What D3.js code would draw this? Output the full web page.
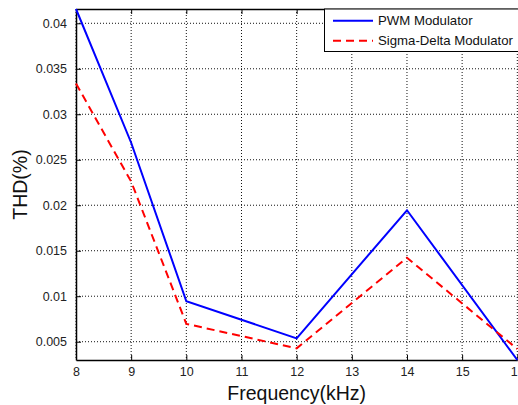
<!DOCTYPE html>
<html>
<head>
<meta charset="utf-8">
<script src="https://cdn.jsdelivr.net/npm/d3@7"></script>
<style>
  body { margin: 0; background: #fff; }
  svg { display: block; font-family: "Liberation Sans", Arial, sans-serif; }
</style>
</head>
<body>
<svg id="chart" width="518" height="405"></svg>
<script>
const freqs = [8, 9, 10, 12, 14, 16];
const pwmThd = [0.04157, 0.02687, 0.00945, 0.00537, 0.01945, 0.00299];
const sigmaDeltaThd = [0.03338, 0.0226, 0.00696, 0.00427, 0.01423, 0.0042];
const xTicks = [8, 9, 10, 11, 12, 13, 14, 15, 16];
const yTicks = [0.005, 0.01, 0.015, 0.02, 0.025, 0.03, 0.035, 0.04];
const yTickLabels = ["0.005", "0.01", "0.015", "0.02", "0.025", "0.03", "0.035", "0.04"];

const svg = d3.select("#chart");
const plotLeft = 76, plotRight = 517.3, plotTop = 9, plotBottom = 360;

const x = d3.scaleLinear().domain([8, 16]).range([plotLeft, plotRight]);
// axis is tight to the data, like matlab "axis tight"
const yExtent = d3.extent(pwmThd.concat(sigmaDeltaThd));
const y = d3.scaleLinear().domain(yExtent).range([plotBottom, plotTop]);

const series = [
    { name: "PWM Modulator", values: pwmThd, color: "#0000ff", dash: null },
    { name: "Sigma-Delta Modulator", values: sigmaDeltaThd, color: "#ff0000", dash: "8,5" }
];

//grid lines
const grid = svg.append("g").attr("stroke", "#111").attr("stroke-width", 1).attr("stroke-dasharray", "1,2");
xTicks.forEach(t => {
    grid.append("line").attr("x1", x(t)).attr("x2", x(t)).attr("y1", plotTop).attr("y2", plotBottom);
});
yTicks.forEach(t => {
    grid.append("line").attr("x1", plotLeft).attr("x2", plotRight).attr("y1", y(t)).attr("y2", y(t));
});

//axes, ticks pointing inwards
const xAxis = d3.axisBottom(x).tickValues(xTicks).tickSizeInner(-5).tickSizeOuter(0).tickPadding(7.5);
const xTop = d3.axisTop(x).tickValues(xTicks).tickSizeInner(-5).tickSizeOuter(0).tickFormat("");
const yAxis = d3.axisLeft(y).tickValues(yTicks).tickSizeInner(-5).tickSizeOuter(0).tickPadding(9)
    .tickFormat((d, i) => yTickLabels[i]);

const gx = svg.append("g").attr("transform", `translate(0,${plotBottom})`).call(xAxis);
const gxt = svg.append("g").attr("transform", `translate(0,${plotTop})`).call(xTop);
const gy = svg.append("g").attr("transform", `translate(${plotLeft},0)`).call(yAxis);

[gx, gxt, gy].forEach(g => {
    g.select(".domain").attr("stroke", "#000").attr("stroke-width", 1.5);
    g.selectAll(".tick line").attr("stroke", "#000");
    g.selectAll("text").attr("fill", "#222").style("font-size", "12.5px");
});

//lines
const line = d3.line().x((d, i) => x(freqs[i])).y(d => y(d));
series.forEach(s => {
    svg.append("path")
        .datum(s.values)
        .attr("d", line)
        .attr("fill", "none")
        .attr("stroke", s.color)
        .attr("stroke-width", 2)
        .attr("stroke-dasharray", s.dash);
});

//axis labels
svg.append("text")
    .attr("x", (plotLeft + plotRight) / 2)
    .attr("y", 400)
    .attr("text-anchor", "middle")
    .style("font-size", "19.5px")
    .attr("fill", "#111")
    .text("Frequency(kHz)");

svg.append("text")
    .attr("transform", `translate(27,${(plotTop + plotBottom) / 2}) rotate(-90)`)
    .attr("text-anchor", "middle")
    .style("font-size", "19.5px")
    .attr("fill", "#111")
    .text("THD(%)");

//legend
const legend = svg.append("g");
legend.append("rect")
    .attr("x", 324.5).attr("y", 9).attr("width", 200).attr("height", 42.5)
    .attr("fill", "#fff").attr("stroke", "#000").attr("stroke-width", 1);
series.forEach((s, i) => {
    const ly = 20.7 + i * 20;
    legend.append("line")
        .attr("x1", 333).attr("x2", 373).attr("y1", ly).attr("y2", ly)
        .attr("stroke", s.color).attr("stroke-width", 2).attr("stroke-dasharray", s.dash);
    legend.append("text")
        .attr("x", 378).attr("y", ly + 4.5)
        .style("font-size", "13.2px").attr("fill", "#111")
        .text(s.name);
});
</script>
</body>
</html>
